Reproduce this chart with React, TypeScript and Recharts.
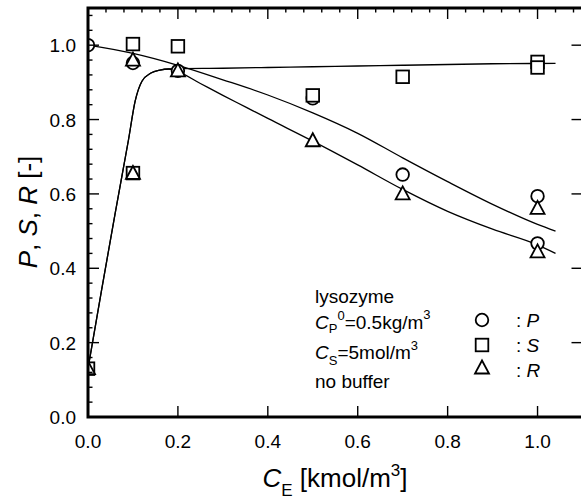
import React from "react";
import { ComposedChart, Line, Scatter, XAxis, YAxis } from "recharts";

// tick values
const majorTicks = [0, 0.2, 0.4, 0.6, 0.8, 1.0];
const minorTicks = [
  0.04, 0.08, 0.12, 0.16, 0.24, 0.28, 0.32, 0.36, 0.44, 0.48, 0.52, 0.56,
  0.64, 0.68, 0.72, 0.76, 0.84, 0.88, 0.92, 0.96, 1.04, 1.08,
];

// measured points
const pPoints = [
  { x: 0, y: 1.0 },
  { x: 0.1, y: 0.952 },
  { x: 0.2, y: 0.931 },
  { x: 0.5, y: 0.857 },
  { x: 0.7, y: 0.652 },
  { x: 1.0, y: 0.594 },
  { x: 1.0, y: 0.467 },
];
const sPoints = [
  { x: 0, y: 0.13 },
  { x: 0.1, y: 1.003 },
  { x: 0.1, y: 0.656 },
  { x: 0.2, y: 0.997 },
  { x: 0.5, y: 0.865 },
  { x: 0.7, y: 0.915 },
  { x: 1.0, y: 0.955 },
  { x: 1.0, y: 0.94 },
];
const rPoints = [
  { x: 0, y: 0.13 },
  { x: 0.1, y: 0.96 },
  { x: 0.1, y: 0.655 },
  { x: 0.2, y: 0.931 },
  { x: 0.5, y: 0.743 },
  { x: 0.7, y: 0.6 },
  { x: 1.0, y: 0.561 },
  { x: 1.0, y: 0.444 },
];

// fitted curves
const pCurve = [
  { x: 0, y: 1.0 },
  { x: 0.1, y: 0.978 },
  { x: 0.2, y: 0.946 },
  { x: 0.3, y: 0.907 },
  { x: 0.4, y: 0.866 },
  { x: 0.5, y: 0.818 },
  { x: 0.6, y: 0.763 },
  { x: 0.7, y: 0.697 },
  { x: 0.8, y: 0.633 },
  { x: 0.9, y: 0.572 },
  { x: 1.0, y: 0.518 },
  { x: 1.04, y: 0.5 },
];
const sCurve = [
  { x: 0, y: 0.13 },
  { x: 0.03, y: 0.34 },
  { x: 0.06, y: 0.545 },
  { x: 0.09, y: 0.745 },
  { x: 0.105, y: 0.85 },
  { x: 0.12, y: 0.903 },
  { x: 0.14, y: 0.925 },
  { x: 0.16, y: 0.933 },
  { x: 0.18, y: 0.936 },
  { x: 0.3, y: 0.938 },
  { x: 0.4, y: 0.94 },
  { x: 0.5, y: 0.942 },
  { x: 0.6, y: 0.944 },
  { x: 0.7, y: 0.946 },
  { x: 0.8, y: 0.948 },
  { x: 0.9, y: 0.95 },
  { x: 1.04, y: 0.951 },
];
const rCurve = [
  { x: 0, y: 0.13 },
  { x: 0.03, y: 0.34 },
  { x: 0.06, y: 0.545 },
  { x: 0.09, y: 0.745 },
  { x: 0.105, y: 0.85 },
  { x: 0.12, y: 0.903 },
  { x: 0.14, y: 0.925 },
  { x: 0.16, y: 0.933 },
  { x: 0.18, y: 0.936 },
  { x: 0.2, y: 0.929 },
  { x: 0.25, y: 0.897 },
  { x: 0.3, y: 0.865 },
  { x: 0.35, y: 0.834 },
  { x: 0.4, y: 0.803 },
  { x: 0.5, y: 0.742 },
  { x: 0.6, y: 0.678 },
  { x: 0.7, y: 0.612 },
  { x: 0.8, y: 0.553 },
  { x: 0.9, y: 0.505 },
  { x: 1.0, y: 0.463 },
  { x: 1.04, y: 0.44 },
];

const FONT = "'Liberation Sans', Arial, sans-serif";
const DOMAIN: [number, number] = [0, 1.1];

// plot box, shared by the chart margins and the frame overlay
const W = 590;
const H = 499;
const LEFT = 88;
const TOP = 8;
const RIGHT = 582.5;
const BOTTOM = 417;
const sx = (v: number) => LEFT + ((v - DOMAIN[0]) / (DOMAIN[1] - DOMAIN[0])) * (RIGHT - LEFT);
const sy = (v: number) => BOTTOM - ((v - DOMAIN[0]) / (DOMAIN[1] - DOMAIN[0])) * (BOTTOM - TOP);

const Circ = (p: any) => (
  <circle cx={p.cx} cy={p.cy} r={6.3} fill="#fff" stroke="#000" strokeWidth={1.8} />
);
const Sq = (p: any) => (
  <rect x={p.cx - 6.3} y={p.cy - 6.3} width={12.6} height={12.6} fill="#fff" stroke="#000" strokeWidth={1.8} />
);
const Tri = (p: any) => (
  <polygon
    points={`${p.cx},${p.cy - 7.5} ${p.cx - 7},${p.cy + 5.5} ${p.cx + 7},${p.cy + 5.5}`}
    fill="#fff"
    stroke="#000"
    strokeWidth={1.8}
  />
);

const bottomTick = (p: any) => (
  <text x={p.x} y={p.y + 29} textAnchor="middle" fontSize={19} fontFamily={FONT} fill="#000">
    {p.payload.value.toFixed(1)}
  </text>
);
const leftTick = (p: any) => (
  <text x={p.x - 10} y={p.y + 7} textAnchor="end" fontSize={19} fontFamily={FONT} fill="#000">
    {p.payload.value.toFixed(1)}
  </text>
);

export default function App() {
  return (
    <div
      style={{
        position: "absolute",
        left: 0,
        top: 0,
        width: 581,
        height: 499,
        overflow: "hidden",
        background: "#fff",
      }}
    >
      <ComposedChart width={W} height={H} margin={{ top: TOP, right: W - RIGHT, bottom: 0, left: 0 }}>
        <XAxis
          dataKey="x"
          type="number"
          domain={DOMAIN}
          allowDataOverflow
          ticks={majorTicks}
          interval={0}
          height={H - BOTTOM}
          tickSize={0}
          tickLine={false}
          axisLine={false}
          tick={bottomTick}
        />
        <YAxis
          type="number"
          domain={DOMAIN}
          allowDataOverflow
          ticks={majorTicks}
          interval={0}
          width={LEFT}
          tickSize={0}
          tickLine={false}
          axisLine={false}
          tick={leftTick}
        />
        <Line data={pCurve} dataKey="y" type="monotone" dot={false} stroke="#000" strokeWidth={1.3} isAnimationActive={false} />
        <Line data={sCurve} dataKey="y" type="monotone" dot={false} stroke="#000" strokeWidth={1.3} isAnimationActive={false} />
        <Line data={rCurve} dataKey="y" type="monotone" dot={false} stroke="#000" strokeWidth={1.3} isAnimationActive={false} />
        <Scatter data={pPoints} dataKey="y" shape={Circ} isAnimationActive={false} />
        <Scatter data={sPoints} dataKey="y" shape={Sq} isAnimationActive={false} />
        <Scatter data={rPoints} dataKey="y" shape={Tri} isAnimationActive={false} />
      </ComposedChart>

      <svg
        width={581}
        height={499}
        style={{ position: "absolute", left: 0, top: 0, zIndex: 10, pointerEvents: "none" }}
        fontFamily={FONT}
        fill="#000"
      >
        {/* frame with inward ticks */}
        <rect x={LEFT} y={TOP} width={RIGHT - LEFT} height={BOTTOM - TOP} fill="none" stroke="#000" strokeWidth={3} />
        <g stroke="#000" strokeWidth={1.4}>
          {majorTicks.map((v) => (
            <React.Fragment key={`M${v}`}>
              <line x1={sx(v)} x2={sx(v)} y1={BOTTOM} y2={BOTTOM - 11} />
              <line x1={sx(v)} x2={sx(v)} y1={TOP} y2={TOP + 11} />
              <line x1={LEFT} x2={LEFT + 11} y1={sy(v)} y2={sy(v)} />
              <line x1={RIGHT} x2={RIGHT - 11} y1={sy(v)} y2={sy(v)} />
            </React.Fragment>
          ))}
          {minorTicks.map((v) => (
            <React.Fragment key={`m${v}`}>
              <line x1={sx(v)} x2={sx(v)} y1={TOP} y2={TOP + 4.5} />
              <line x1={LEFT} x2={LEFT + 4.5} y1={sy(v)} y2={sy(v)} />
            </React.Fragment>
          ))}
        </g>

        {/* axis titles */}
        <text x={335} y={487} textAnchor="middle" fontSize={26}>
          <tspan fontStyle="italic">C</tspan>
          <tspan fontSize={17} dy={9}>E</tspan>
          <tspan dy={-9}> [kmol/m</tspan>
          <tspan fontSize={17} dy={-11}>3</tspan>
          <tspan dy={11}>]</tspan>
        </text>
        <text transform="translate(37,212) rotate(-90)" textAnchor="middle" fontSize={26}>
          <tspan fontStyle="italic">P</tspan>
          <tspan>, </tspan>
          <tspan fontStyle="italic">S</tspan>
          <tspan>, </tspan>
          <tspan fontStyle="italic">R</tspan>
          <tspan> [-]</tspan>
        </text>

        {/* condition notes */}
        <text x={315} y={303} fontSize={19}>lysozyme</text>
        <text x={315} y={329} fontSize={19}>
          <tspan fontStyle="italic">C</tspan>
          <tspan fontSize={13} dy={4}>P</tspan>
          <tspan fontSize={13} dy={-13}>0</tspan>
          <tspan dy={9}>=0.5kg/m</tspan>
          <tspan fontSize={13} dy={-10}>3</tspan>
        </text>
        <text x={315} y={359} fontSize={19}>
          <tspan fontStyle="italic">C</tspan>
          <tspan fontSize={13} dy={6}>S</tspan>
          <tspan dy={-6}>=5mol/m</tspan>
          <tspan fontSize={13} dy={-9}>3</tspan>
        </text>
        <text x={315} y={388} fontSize={19}>no buffer</text>

        {/* legend */}
        <circle cx={482} cy={320} r={6.3} fill="#fff" stroke="#000" strokeWidth={1.8} />
        <rect x={475.7} y={338.7} width={12.6} height={12.6} fill="#fff" stroke="#000" strokeWidth={1.8} />
        <polygon points="482,360.5 475,373.5 489,373.5" fill="#fff" stroke="#000" strokeWidth={1.8} />
        <text x={516} y={327} fontSize={19}>
          {": "}
          <tspan fontStyle="italic">P</tspan>
        </text>
        <text x={516} y={352} fontSize={19}>
          {": "}
          <tspan fontStyle="italic">S</tspan>
        </text>
        <text x={516} y={377} fontSize={19}>
          {": "}
          <tspan fontStyle="italic">R</tspan>
        </text>
      </svg>
    </div>
  );
}
